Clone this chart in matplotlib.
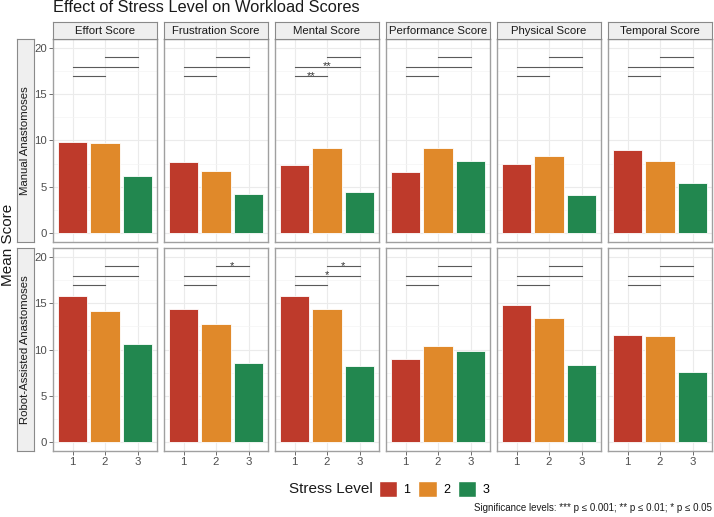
import numpy as np
import matplotlib
matplotlib.use("Agg")
import matplotlib.pyplot as plt
from matplotlib.patches import Patch

plt.rcParams['font.family'] = ['Liberation Sans', 'DejaVu Sans']

# Datos
scores = ['Effort Score', 'Frustration Score', 'Mental Score',
          'Performance Score', 'Physical Score', 'Temporal Score']
groups = ['Manual Anastomoses', 'Robot-Assisted Anastomoses']
levels = ['1', '2', '3']

manual = [[9.8, 9.7, 6.2],
          [7.7, 6.7, 4.2],
          [7.3, 9.15, 4.4],
          [6.6, 9.2, 7.75],
          [7.45, 8.3, 4.05],
          [9.0, 7.8, 5.4]]
robot = [[15.8, 14.2, 10.65],
         [14.4, 12.8, 8.55],
         [15.8, 14.4, 8.2],
         [9.0, 10.35, 9.85],
         [14.85, 13.4, 8.35],
         [11.6, 11.45, 7.6]]

# Comparaciones (pares) y altura de cada corchete
pairs = [(1, 2), (1, 3), (2, 3)]
bracket_y = [17, 18, 19]
manual_sig = [['', '', ''], ['', '', ''], ['**', '**', ''],
              ['', '', ''], ['', '', ''], ['', '', '']]
robot_sig = [['', '', ''], ['', '', '*'], ['', '*', '*'],
             ['', '', ''], ['', '', ''], ['', '', '']]

colors = ['#BE3A2B', '#E0892A', '#22874F']
caption = 'Significance levels: *** p \u2264 0.001; ** p \u2264 0.01; * p \u2264 0.05'

W, H = 714, 517
fig = plt.figure(figsize=(W / 100, H / 100), dpi=100)


def px_axes(x0, y0, w, h):
    return fig.add_axes([x0 / W, 1 - (y0 + h) / H, w / W, h / H])


def strip(x0, y0, w, h, label, rot=0):
    st = px_axes(x0, y0, w, h)
    st.set_xticks([])
    st.set_yticks([])
    st.set_facecolor('#EFEFEF')
    for s in st.spines.values():
        s.set_color('#8A8A8A')
        s.set_linewidth(0.8)
    st.text(0.5, 0.5, label, ha='center', va='center', rotation=rot,
            fontsize=8.2, color='#1A1A1A', transform=st.transAxes)
    return st


panel_left = [53, 164, 275, 386, 497, 608]
panel_w = 104
row_top = [39, 248]
panel_h = 203
grey_txt = '#4D4D4D'
border = '#A0A0A0'

# Tiras laterales primero para que no tapen las etiquetas del eje
for r in range(2):
    strip(17, row_top[r], 17, panel_h, groups[r], rot=90)

for r, (data, sig) in enumerate([(manual, manual_sig), (robot, robot_sig)]):
    for c, score in enumerate(scores):
        ax = px_axes(panel_left[c], row_top[r], panel_w, panel_h)
        xs = np.arange(1, 4)
        ax.bar(xs, data[c], width=0.9, color=colors, edgecolor='white',
               linewidth=0.6, zorder=3)
        for (a, b), yb, lab in zip(pairs, bracket_y, sig[c]):
            ax.plot([a, b], [yb, yb], color='#5A5A5A', lw=0.8, zorder=4)
            if lab:
                ax.text((a + b) / 2, yb - 0.3, lab, ha='center',
                        va='baseline', fontsize=8, color='#333333')
        ax.set_xlim(0.4, 3.6)
        ax.set_ylim(-1, 21)
        ax.set_xticks(xs)
        ax.set_yticks([0, 5, 10, 15, 20])
        ax.set_yticks([2.5, 7.5, 12.5, 17.5], minor=True)
        ax.grid(True, which='major', color='#EBEBEB', lw=0.8, zorder=0)
        ax.grid(True, which='minor', axis='y', color='#F4F4F4', lw=0.5,
                zorder=0)
        ax.tick_params(which='minor', length=0)
        ax.tick_params(which='major', colors='#555555', length=3,
                       width=0.6, labelsize=8.2, labelcolor=grey_txt, pad=1.5)
        if c > 0:
            ax.tick_params(axis='y', labelleft=False, length=0)
        if r == 0:
            ax.tick_params(axis='x', labelbottom=False, length=0)
        for s in ax.spines.values():
            s.set_color(border)
            s.set_linewidth(1.0)

        # Tira superior con el nombre de la escala
        if r == 0:
            strip(panel_left[c], 22, panel_w, 17, score)

fig.text(53 / W, 1 - 8 / H, 'Effect of Stress Level on Workload Scores',
         ha='left', va='center', fontsize=11.8, color='#1A1A1A')
fig.text(8 / W, 1 - 245 / H, 'Mean Score', ha='center', va='center',
         rotation=90, fontsize=11, color='#1A1A1A')

# Leyenda
fig.text(373 / W, 1 - 489 / H, 'Stress Level', ha='right', va='center',
         fontsize=11, color='#1A1A1A')
handles = [Patch(facecolor=col, edgecolor='white', label=lv)
           for col, lv in zip(colors, levels)]
fig.legend(handles=handles, ncol=3, loc='center left',
           bbox_to_anchor=(376 / W, 1 - 489 / H), frameon=False,
           fontsize=9, handlelength=1.5, handleheight=1.5,
           handletextpad=0.5, columnspacing=0.6, borderpad=0.2,
           borderaxespad=0)

fig.text(712 / W, 1 - 508 / H, caption, ha='right', va='center',
         fontsize=7, color='#1A1A1A')

fig.savefig('out.png', dpi=100)
